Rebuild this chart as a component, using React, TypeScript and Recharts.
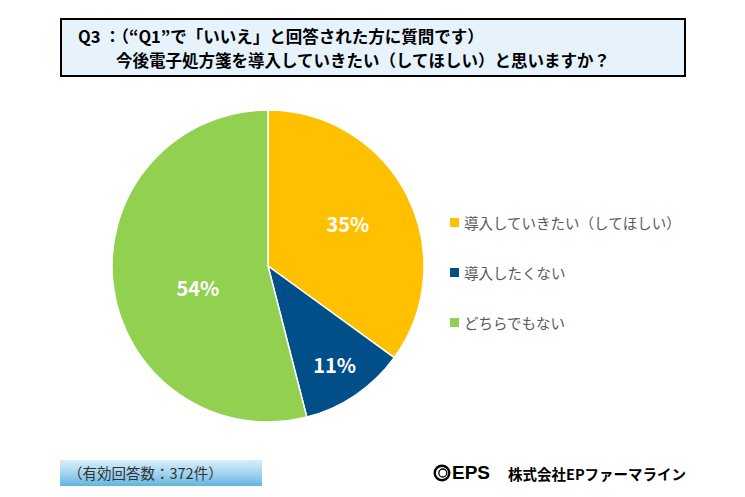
import { PieChart, Pie, Cell, Legend } from 'recharts'

const categories = ['導入していきたい（してほしい）', '導入したくない', 'どちらでもない']
const shares = [35, 11, 54]
const colors = ['#FFC000', '#004F88', '#92D050']
const titleLines = ['Q3 ：（“Q1”で「いいえ」と回答された方に質問です）', '今後電子処方箋を導入していきたい（してほしい）と思いますか？']
const responses = 372

const data = categories.map((name, i) => ({ name, value: shares[i] }))

const JP = '"Noto Sans CJK JP", "Noto Sans", sans-serif'
const RAD = Math.PI / 180

// label radius as a fraction of the pie radius, tuned per slice like Excel's best fit
const labelRadius = [0.58, 0.76, 0.47]
const labelShift = [1, 0, 10]

function renderLabel(props: any) {
  const { cx, cy, midAngle, outerRadius, index, value } = props
  const r = outerRadius * labelRadius[index]
  const a = (midAngle + labelShift[index]) * RAD
  const x = cx + r * Math.cos(a)
  const y = cy - r * Math.sin(a)
  return (
    <text x={x} y={y} fill="#ffffff" fontSize={20} fontWeight={700} fontFamily={JP}
      textAnchor="middle" dominantBaseline="central">
      {`${value}%`}
    </text>
  )
}

function LegendBox() {
  return (
    <div style={{ fontFamily: JP }}>
      {data.map((d, i) => (
        <div key={d.name} style={{ display: 'flex', alignItems: 'center', height: 50, fontSize: 14.5, color: '#595959' }}>
          <span style={{ width: 9, height: 9, background: colors[i], marginRight: 5, display: 'inline-block' }} />
          {d.name}
        </div>
      ))}
    </div>
  )
}

export default function App() {
  return (
    <div style={{ position: 'absolute', left: 0, top: 0, width: 745, height: 497, background: '#fff', overflow: 'hidden' }}>
      <div style={{
        position: 'absolute', left: 60, top: 18, width: 622, height: 55,
        border: '2.5px solid #000', background: '#E6F3FC', fontFamily: JP,
        fontWeight: 700, fontSize: 16.5, color: '#000',
      }}>
        <div style={{ position: 'absolute', left: 16, top: 7, lineHeight: '18px', whiteSpace: 'nowrap' }}>{titleLines[0]}</div>
        <div style={{ position: 'absolute', left: 54, top: 31, lineHeight: '18px', whiteSpace: 'nowrap' }}>{titleLines[1]}</div>
      </div>

      <div style={{ position: 'absolute', left: 0, top: 0 }}>
        <PieChart width={745} height={497} margin={{ top: 0, right: 0, bottom: 0, left: 0 }}>
          <Pie
            data={data}
            dataKey="value"
            cx={268}
            cy={266}
            outerRadius={156}
            startAngle={90}
            endAngle={-270}
            stroke="#ffffff"
            strokeWidth={1.5}
            label={renderLabel}
            labelLine={false}
            isAnimationActive={false}
          >
            {data.map((d, i) => (
              <Cell key={d.name} fill={colors[i]} />
            ))}
          </Pie>
          <Legend
            layout="vertical"
            content={() => <LegendBox />}
            wrapperStyle={{ position: 'absolute', left: 450, top: 197, width: 260 }}
          />
        </PieChart>
      </div>

      <div style={{
        position: 'absolute', left: 60, top: 460, width: 202, height: 26,
        background: 'linear-gradient(to bottom, #D8EEFA 0%, #9FD2EE 55%, #62B4DF 100%)',
        fontFamily: JP, fontSize: 14.5, color: '#333', lineHeight: '26px', paddingLeft: 8, boxSizing: 'border-box',
      }}>
        {`（有効回答数：${responses}件）`}
      </div>

      <div style={{ position: 'absolute', left: 433, top: 462, display: 'flex', alignItems: 'center', fontFamily: JP, color: '#000' }}>
        <svg width={18} height={18} viewBox="0 0 18 18" style={{ marginRight: 1 }}>
          <circle cx={9} cy={9} r={7.3} fill="none" stroke="#000" strokeWidth={2.4} />
          <circle cx={9.8} cy={9} r={4} fill="none" stroke="#000" strokeWidth={1.3} />
        </svg>
        <span style={{ fontFamily: '"Liberation Sans", Arial, sans-serif', fontWeight: 700, fontSize: 19 }}>EPS</span>
        <span style={{ fontWeight: 700, fontSize: 14.5, marginLeft: 18 }}>株式会社EPファーマライン</span>
      </div>
    </div>
  )
}
